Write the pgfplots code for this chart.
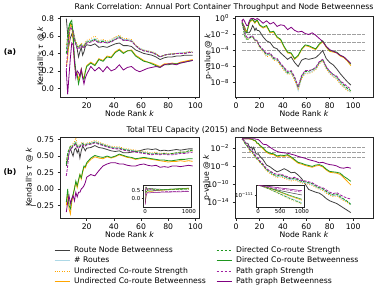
\documentclass[border=0pt]{standalone}
\usepackage{pgfplots}
\pgfplotsset{compat=1.18}
\usepackage{pgfplotstable}
\usepackage{fontspec}
\setmainfont{DejaVu Sans}
\definecolor{cgray}{HTML}{404040}
\definecolor{cblue}{HTML}{ADD8E6}
\definecolor{corange}{HTML}{FFA500}
\definecolor{cgreen}{HTML}{1E961E}
\definecolor{cpurple}{HTML}{800080}
\definecolor{cpurpled}{HTML}{A020A0}
\definecolor{chline}{HTML}{A0A0A0}

\pgfplotstableread{
k g b od os gd gs pd ps
5 0.80 0.45 0.50 0.25 0.40 0.40 0.20 0.20
6 0.62 0.55 0.60 0.35 0.62 0.42 0.45 -0.07
7 0.50 0.65 0.68 0.55 0.72 0.70 0.62 0.15
8 0.58 0.72 0.74 0.74 0.76 0.76 0.70 0.35
9 0.62 0.70 0.72 0.72 0.73 0.78 0.68 0.52
10 0.58 0.66 0.66 0.55 0.66 0.62 0.65 0.50
11 0.55 0.58 0.60 0.28 0.58 0.35 0.56 0.30
12 0.52 0.52 0.54 0.18 0.52 0.20 0.50 0.12
13 0.45 0.48 0.50 0.17 0.48 0.15 0.46 0.20
14 0.36 0.47 0.48 0.10 0.47 0.05 0.45 0.18
15 0.42 0.49 0.50 0.16 0.49 0.12 0.47 0.14
16 0.47 0.51 0.52 0.22 0.50 0.21 0.49 0.22
17 0.38 0.49 0.50 0.14 0.48 0.13 0.47 0.12
18 0.42 0.48 0.49 0.12 0.47 0.10 0.46 0.05
19 0.48 0.52 0.53 0.20 0.51 0.19 0.50 0.12
20 0.50 0.54 0.55 0.26 0.53 0.25 0.52 0.16
23 0.49 0.55 0.57 0.30 0.54 0.29 0.53 0.25
26 0.51 0.57 0.60 0.27 0.56 0.26 0.55 0.20
29 0.47 0.54 0.55 0.34 0.53 0.33 0.52 0.24
32 0.48 0.55 0.56 0.32 0.54 0.31 0.53 0.19
35 0.47 0.53 0.54 0.37 0.52 0.36 0.52 0.25
38 0.49 0.55 0.56 0.36 0.54 0.35 0.53 0.20
41 0.51 0.58 0.59 0.42 0.56 0.41 0.56 0.22
44 0.52 0.60 0.61 0.45 0.59 0.44 0.58 0.27
47 0.49 0.56 0.57 0.41 0.55 0.40 0.55 0.21
50 0.49 0.56 0.57 0.43 0.55 0.43 0.55 0.24
53 0.48 0.55 0.56 0.44 0.54 0.43 0.54 0.25
56 0.44 0.49 0.50 0.38 0.49 0.37 0.49 0.21
59 0.42 0.46 0.46 0.35 0.45 0.34 0.45 0.19
62 0.40 0.44 0.44 0.32 0.43 0.31 0.43 0.21
65 0.39 0.43 0.43 0.30 0.42 0.30 0.42 0.23
68 0.38 0.42 0.42 0.29 0.41 0.28 0.41 0.24
71 0.36 0.40 0.40 0.27 0.39 0.26 0.39 0.25
74 0.33 0.36 0.36 0.25 0.36 0.24 0.36 0.24
77 0.35 0.38 0.38 0.28 0.38 0.27 0.38 0.27
80 0.36 0.39 0.39 0.28 0.39 0.27 0.39 0.28
83 0.36 0.40 0.40 0.29 0.39 0.28 0.39 0.28
86 0.37 0.40 0.40 0.28 0.40 0.28 0.40 0.27
89 0.37 0.41 0.40 0.30 0.40 0.29 0.40 0.29
92 0.38 0.41 0.41 0.31 0.40 0.30 0.40 0.30
95 0.38 0.42 0.42 0.32 0.41 0.31 0.41 0.31
98 0.38 0.42 0.42 0.33 0.41 0.32 0.41 0.32
}\TLtau

\pgfplotstableread{
k g b od os gd gs pd ps
5 4e-1 3.2e-1 4e-1 2.5e-1 2.5e-1 3.2e-1 6.3e-1 5e-1
6 1.6e-1 1e-1 7.9e-2 2e-1 6.3e-2 1.6e-1 1.3e-1 7.9e-1
7 1e-1 2.5e-2 2e-2 6.3e-2 1e-2 4e-2 3.2e-2 5e-1
8 4e-2 6.3e-3 5e-3 3.2e-2 3.2e-3 2e-2 1e-2 2.5e-1
9 2.5e-2 4e-3 3.2e-3 2.5e-2 2.5e-3 1.6e-2 5e-3 1.3e-1
10 1.6e-2 3.2e-3 2.5e-3 5e-2 2.5e-3 6.3e-2 4e-3 1.3e-1
11 1.6e-2 4e-3 3.2e-3 2e-1 3.2e-3 2.5e-1 4e-3 4e-1
12 2.5e-2 5e-3 4e-3 4e-1 4e-3 5e-1 5e-3 7.9e-1
13 5e-2 6.3e-3 5e-3 5e-1 5e-3 6.3e-1 6.3e-3 1
14 1.3e-1 6.3e-3 5e-3 6.3e-1 5e-3 7.9e-1 6.3e-3 1
15 7.9e-2 4e-3 3.2e-3 4e-1 3.2e-3 5e-1 4e-3 1
16 3.2e-2 2e-3 1.6e-3 2.5e-1 1.6e-3 3.2e-1 2e-3 6.3e-1
17 6.3e-2 2e-3 1.6e-3 4e-1 1.6e-3 5e-1 2e-3 7.9e-1
18 3.2e-2 1.6e-3 1.3e-3 5e-1 1.6e-3 6.3e-1 1.6e-3 1
19 3.2e-2 6.3e-4 5e-4 2.5e-1 6.3e-4 3.2e-1 6.3e-4 7.9e-1
20 2.5e-2 3.2e-4 2.5e-4 1.3e-1 3.2e-4 1.6e-1 4e-4 6.3e-1
23 5e-3 1e-4 6.3e-5 6.3e-2 1e-4 7.9e-2 1.3e-4 2.5e-1
26 1.6e-3 2.5e-5 1.6e-5 1e-1 3.2e-5 1.3e-1 4e-5 5e-1
29 1e-3 3.2e-5 2.5e-5 1.6e-2 4e-5 2e-2 5e-5 2e-1
32 2.5e-4 7.9e-6 6.3e-6 2e-2 1e-5 2.5e-2 1.3e-5 3.2e-1
35 1.6e-4 6.3e-6 5e-6 4e-3 7.9e-6 5e-3 1e-5 1e-1
38 5e-5 1.6e-6 1.3e-6 2e-3 2e-6 2.5e-3 2.5e-6 1.6e-1
41 2e-5 4e-7 3.2e-7 2.5e-4 6.3e-7 3.2e-4 7.9e-7 1.3e-1
44 7.9e-6 1.3e-7 1e-7 5e-5 1.6e-7 6.3e-5 2.5e-7 4e-2
47 1.6e-5 1.6e-7 1.3e-7 4e-5 2.5e-7 5e-5 3.2e-7 7.9e-2
50 3.2e-6 2.5e-8 2e-8 7.9e-6 4e-8 1e-5 5e-8 3.2e-2
53 1e-6 1e-9 1.6e-9 2e-5 2.5e-9 2.5e-5 3.2e-9 2e-2
56 6.3e-6 4e-8 3.2e-8 1.3e-4 6.3e-8 1.6e-4 7.9e-8 2.5e-2
59 1e-5 1.6e-7 1.3e-7 4e-4 2.5e-7 5e-4 3.2e-7 1.3e-2
62 7.9e-6 1.6e-7 1.3e-7 3.2e-4 2.5e-7 4e-4 3.2e-7 1e-2
65 1e-5 2.5e-7 2e-7 2e-4 4e-7 2.5e-4 4e-7 1.6e-2
68 1.3e-5 5e-7 4e-7 1.3e-4 6.3e-7 1.6e-4 7.9e-7 7.9e-3
71 3.2e-5 2.5e-6 2e-6 5e-4 3.2e-6 6.3e-4 4e-6 3.2e-3
74 1e-4 6.3e-6 5e-6 1.3e-3 7.9e-6 1.6e-3 7.9e-6 1.3e-3
77 1e-5 6.3e-7 5e-7 2.5e-4 7.9e-7 3.2e-4 1e-6 3.2e-4
80 3.2e-6 1.6e-7 1.3e-7 7.9e-5 2.5e-7 1e-4 2.5e-7 1.3e-4
83 1.6e-6 6.3e-8 5e-8 6.3e-5 1e-7 7.9e-5 1e-7 7.9e-5
86 5e-7 3.2e-8 2.5e-8 5e-5 5e-8 6.3e-5 6.3e-8 5e-5
89 1.3e-7 7.9e-9 6.3e-9 2e-5 1.3e-8 2.5e-5 1.6e-8 2.5e-5
92 4e-8 3.2e-9 2.5e-9 1.3e-5 5e-9 1.6e-5 7.9e-9 1.6e-5
95 1.3e-8 1.3e-9 1e-9 5e-6 2e-9 6.3e-6 3.2e-9 6.3e-6
98 5e-9 6.3e-10 7.9e-10 1.3e-6 1e-9 2e-6 1.6e-9 2.5e-6
}\TRp

\pgfplotstableread{
k g b od os gd gs pd ps
5 0.35 0.40 0.42 -0.25 0.38 -0.20 0.20 -0.35
6 0.45 0.50 0.52 -0.05 0.55 0.00 0.35 -0.20
7 0.55 0.58 0.60 -0.30 0.60 -0.25 0.55 -0.10
8 0.62 0.63 0.66 -0.38 0.65 -0.30 0.60 -0.22
9 0.55 0.62 0.64 -0.20 0.63 -0.15 0.62 -0.15
10 0.50 0.68 0.70 -0.10 0.66 -0.08 0.65 -0.10
11 0.60 0.70 0.72 0.02 0.68 0.00 0.66 -0.18
12 0.62 0.72 0.78 0.10 0.70 0.12 0.68 -0.05
13 0.55 0.66 0.68 0.02 0.65 0.05 0.63 -0.12
14 0.60 0.65 0.66 0.12 0.64 0.14 0.62 -0.05
15 0.47 0.66 0.67 0.22 0.65 0.22 0.64 -0.05
16 0.58 0.68 0.70 0.15 0.67 0.17 0.66 0.00
17 0.65 0.70 0.71 0.25 0.69 0.27 0.67 0.02
18 0.62 0.68 0.69 0.33 0.67 0.35 0.65 0.05
19 0.58 0.67 0.68 0.32 0.66 0.34 0.65 0.10
20 0.62 0.69 0.70 0.38 0.68 0.40 0.67 0.18
23 0.63 0.70 0.71 0.45 0.69 0.47 0.68 0.22
26 0.66 0.72 0.74 0.49 0.71 0.51 0.70 0.20
29 0.63 0.70 0.71 0.47 0.69 0.49 0.68 0.28
32 0.62 0.68 0.69 0.46 0.67 0.48 0.66 0.35
35 0.60 0.66 0.67 0.49 0.65 0.50 0.64 0.38
38 0.58 0.64 0.65 0.47 0.63 0.48 0.62 0.40
41 0.57 0.63 0.64 0.49 0.62 0.50 0.61 0.40
44 0.58 0.63 0.64 0.52 0.62 0.53 0.61 0.38
47 0.55 0.61 0.62 0.50 0.60 0.51 0.59 0.38
50 0.55 0.60 0.61 0.48 0.59 0.49 0.58 0.36
53 0.56 0.59 0.60 0.47 0.58 0.48 0.57 0.35
56 0.57 0.58 0.59 0.45 0.57 0.46 0.56 0.35
59 0.58 0.57 0.58 0.46 0.56 0.47 0.55 0.37
62 0.60 0.56 0.57 0.47 0.55 0.48 0.54 0.38
65 0.61 0.55 0.56 0.46 0.54 0.47 0.53 0.36
68 0.60 0.54 0.55 0.45 0.53 0.46 0.52 0.35
71 0.61 0.55 0.56 0.44 0.54 0.45 0.53 0.36
74 0.58 0.53 0.54 0.43 0.53 0.44 0.52 0.33
77 0.59 0.54 0.55 0.42 0.54 0.44 0.53 0.34
80 0.58 0.53 0.54 0.41 0.53 0.43 0.52 0.33
83 0.59 0.54 0.54 0.42 0.54 0.43 0.52 0.35
86 0.60 0.54 0.55 0.42 0.55 0.44 0.53 0.35
89 0.59 0.55 0.56 0.43 0.56 0.45 0.54 0.34
92 0.60 0.55 0.56 0.42 0.56 0.45 0.54 0.35
95 0.61 0.57 0.57 0.43 0.58 0.46 0.55 0.36
98 0.61 0.58 0.58 0.42 0.59 0.46 0.56 0.35
}\BLtau

\pgfplotstableread{
k g b od os gd gs pd ps
5 0.35 0.40 0.42 -0.25 0.38 -0.20 0.20 -0.35
10 0.50 0.68 0.70 -0.10 0.66 -0.08 0.65 -0.10
20 0.62 0.69 0.70 0.38 0.68 0.40 0.67 0.18
50 0.55 0.60 0.61 0.48 0.59 0.49 0.58 0.36
100 0.61 0.58 0.58 0.42 0.59 0.46 0.56 0.35
200 0.59 0.55 0.56 0.46 0.56 0.48 0.50 0.37
300 0.57 0.53 0.54 0.49 0.54 0.51 0.47 0.38
400 0.56 0.52 0.53 0.51 0.53 0.53 0.45 0.39
500 0.56 0.52 0.53 0.53 0.53 0.55 0.44 0.39
600 0.57 0.53 0.54 0.55 0.54 0.57 0.44 0.40
700 0.58 0.54 0.55 0.57 0.55 0.59 0.44 0.41
800 0.58 0.55 0.56 0.59 0.56 0.60 0.45 0.41
900 0.59 0.56 0.57 0.60 0.57 0.62 0.45 0.42
1000 0.60 0.57 0.58 0.62 0.58 0.63 0.46 0.42
}\BLins

\pgfplotstableread{
k g b od os gd gs pd ps
5 1 1 1 1 1 1 1 1
6 6.3e-1 5e-1 5e-1 1 5e-1 1 6.3e-1 1
7 3.2e-1 2e-1 1.6e-1 1 1.6e-1 1 3.2e-1 1
8 1.3e-1 7.9e-2 6.3e-2 1 6.3e-2 1 1.3e-1 1
9 1e-1 4e-2 3.2e-2 1 3.2e-2 1 6.3e-2 1
10 1e-1 1.6e-2 1.3e-2 1 1.6e-2 1 2.5e-2 1
11 2.5e-2 6.3e-3 4e-3 1 6.3e-3 1 1e-2 1
12 1e-2 2.5e-3 1e-3 7.9e-1 2.5e-3 1 4e-3 1
13 1.6e-2 2.5e-3 1.6e-3 7.9e-1 2.5e-3 7.9e-1 4e-3 1
14 4e-3 1e-3 6.3e-4 6.3e-1 1e-3 7.9e-1 1.6e-3 1
15 1.3e-2 4e-4 2.5e-4 4e-1 4e-4 5e-1 7.9e-4 1
16 2.5e-3 1.6e-4 1e-4 4e-1 1.6e-4 5e-1 3.2e-4 1
17 5e-4 5e-5 4e-5 2e-1 6.3e-5 2.5e-1 1.3e-4 7.9e-1
18 4e-4 3.2e-5 2.5e-5 7.9e-2 4e-5 1e-1 7.9e-5 7.9e-1
19 5e-4 2e-5 1.6e-5 7.9e-2 2.5e-5 1e-1 5e-5 6.3e-1
20 1.6e-4 7.9e-6 6.3e-6 3.2e-2 1e-5 4e-2 1.6e-5 4e-1
23 2.5e-5 1.3e-6 1e-6 6.3e-3 1.6e-6 1e-2 2.5e-6 6.3e-2
26 1.6e-6 1.3e-7 7.9e-8 1e-3 1.6e-7 1.6e-3 2.5e-7 5e-2
29 6.3e-7 3.2e-8 2e-8 4e-4 5e-8 6.3e-4 7.9e-8 1.3e-2
32 1.6e-7 1e-8 6.3e-9 3.2e-4 1.3e-8 5e-4 2.5e-8 4e-3
35 5e-8 4e-9 2.5e-9 1e-4 6.3e-9 1.6e-4 1.3e-8 1.6e-3
38 1e-7 6.3e-9 4e-9 1.6e-4 1e-8 2.5e-4 1.6e-8 1e-3
41 2.5e-7 3.2e-9 2e-9 1.3e-4 5e-9 2e-4 7.9e-9 7.9e-4
44 1e-7 1.6e-9 1e-9 2e-4 2.5e-9 3.2e-4 4e-9 6.3e-4
47 3.2e-8 7.9e-10 5e-10 6.3e-5 1.3e-9 1e-4 2e-9 4e-4
50 4e-8 1.3e-9 7.9e-10 1.6e-5 2e-9 2.5e-5 3.2e-9 2.5e-4
53 1e-8 5e-10 3.2e-10 4e-6 7.9e-10 6.3e-6 1.3e-9 1.3e-4
56 1.6e-9 2.5e-10 1.6e-10 2.5e-6 4e-10 4e-6 6.3e-10 7.9e-5
59 1e-10 2e-10 1.3e-10 1.3e-6 3.2e-10 2e-6 5e-10 5e-5
62 6.3e-12 1.3e-10 7.9e-11 7.9e-7 2e-10 1.3e-6 3.2e-10 2.5e-5
65 3.2e-12 7.9e-11 5e-11 5e-7 1.3e-10 7.9e-7 2e-10 1.6e-5
68 1.6e-12 2.5e-11 1.6e-11 1e-6 4e-11 1.6e-6 6.3e-11 1e-5
71 1e-12 1e-11 6.3e-12 1.3e-6 1.6e-11 2e-6 2.5e-11 5e-6
74 3.2e-13 6.3e-12 4e-12 6.3e-7 1e-11 1e-6 1.6e-11 6.3e-6
77 6.3e-14 1.6e-12 1e-12 1.3e-7 2.5e-12 2e-7 5e-12 3.2e-6
80 2e-14 5e-13 3.2e-13 4e-8 7.9e-13 6.3e-8 1.6e-12 2e-6
83 1e-14 2.5e-13 1.6e-13 3.2e-8 4e-13 5e-8 7.9e-13 1.6e-6
86 5e-15 4e-13 2.5e-13 2.5e-8 6.3e-13 4e-8 1.3e-12 1e-6
89 1.6e-15 1e-13 6.3e-14 1.3e-8 1.6e-13 2.5e-8 4e-13 4e-7
92 5e-16 3.2e-14 2e-14 2.5e-9 5e-14 5e-9 1.6e-13 3.2e-7
95 1.6e-16 1.3e-14 7.9e-15 4e-10 1.6e-14 1.6e-9 7.9e-14 5e-7
98 5e-17 4e-15 2.5e-15 6.3e-11 3.2e-15 4e-10 5e-14 3.2e-7
}\BRp

\pgfplotstableread{
k g b od os gd gs pd ps
5 1 1 1 1 1 1 1 1
100 1e-16 3.2e-15 1e-15 1e-10 3.2e-15 3.2e-10 1e-13 3.2e-7
300 1e-37 1e-50 1e-55 1e-40 1e-52 1e-38 1e-28 1e-18
500 1e-58 1e-90 1e-100 1e-75 1e-94 1e-70 1e-42 1e-30
700 1e-78 1e-130 1e-145 1e-112 1e-137 1e-105 1e-55 1e-42
1000 1e-105 1e-185 1e-205 1e-160 1e-195 1e-150 1e-75 1e-60
}\BRins

\newcommand{\fs}{\fontsize{7.7}{9.2}\selectfont}
\newcommand{\fst}{\fontsize{7.8}{9.4}\selectfont}
\pgfplotsset{
  base/.style={scale only axis, axis line style={line width=0.6pt, black!85},
    tick align=outside, major tick length=2.5pt, tick style={line width=0.5pt, black!85},
    xtick pos=left, ytick pos=left,
    ticklabel style={font=\fs},
    label style={font=\fs},
    /pgf/number format/assume math mode=true},
  inset/.style={scale only axis, width=48pt, height=22pt, axis background/.style={fill=white},
    axis line style={line width=0.5pt, black!85}, tick align=outside, major tick length=1.5pt,
    tick style={line width=0.4pt, black!85}, xtick pos=left, ytick pos=left,
    ticklabel style={font=\fontsize{5.5}{6.5}\selectfont, inner sep=1pt},
    /pgf/number format/assume math mode=true, xmin=-50, xmax=1050},
  sgray/.style={cgray, line width=0.8pt},
  sblue/.style={cblue, line width=0.8pt},
  sodot/.style={corange, line width=0.8pt, dash pattern=on 0.8pt off 1.6pt},
  sosol/.style={corange, line width=0.8pt},
  sgdash/.style={cgreen, line width=0.8pt, dash pattern=on 2.8pt off 1.2pt},
  sgsol/.style={cgreen, line width=0.8pt},
  spdash/.style={cpurpled, line width=0.8pt, dash pattern=on 2.8pt off 1.2pt},
  spsol/.style={cpurple, line width=0.8pt},
  shl/.style={chline, line width=0.8pt, dash pattern=on 3.5pt off 1.5pt},
}
\newcommand{\plotall}[2][0.8pt]{%
  \addplot[sgray, line width=#1] table[x=k,y=g]{#2};
  \addplot[sblue, line width=#1] table[x=k,y=b]{#2};
  \addplot[sodot, line width=#1] table[x=k,y=od]{#2};
  \addplot[sosol, line width=#1] table[x=k,y=os]{#2};
  \addplot[sgdash, line width=#1] table[x=k,y=gd]{#2};
  \addplot[sgsol, line width=#1] table[x=k,y=gs]{#2};
  \addplot[spdash, line width=#1] table[x=k,y=pd]{#2};
  \addplot[spsol, line width=#1] table[x=k,y=ps]{#2};
}
\newcommand{\hlines}{%
  \addplot[shl] coordinates {(5,1e-2) (110,1e-2)};
  \addplot[shl] coordinates {(5,1e-3) (110,1e-3)};
  \addplot[shl] coordinates {(5,1e-4) (110,1e-4)};
}

\begin{document}
\begin{tikzpicture}
\useasboundingbox (0pt,0pt) rectangle (379pt,294pt);

% ---------- top left
\begin{axis}[base, at={(60pt,197pt)}, anchor=south west, width=139pt, height=81pt,
  xmin=0.35, xmax=102.65, ymin=-0.1, ymax=0.83,
  xtick={20,40,60,80,100}, ytick={0,0.2,0.4,0.6,0.8},
  yticklabels={0.0,0.2,0.4,0.6,0.8},
  xlabel={Node Rank \textit{k}}, ylabel={Kendall\textquotesingle s \textit{τ} @ \textit{k}},
  xlabel style={at={(axis description cs:0.5,-0.2)}, anchor=center},
  ylabel style={at={(axis description cs:-0.137,0.5)}, anchor=center}]
\plotall{\TLtau}
\end{axis}

% ---------- top right
\begin{axis}[base, at={(235pt,197pt)}, anchor=south west, width=138pt, height=81pt,
  xmin=-1, xmax=117, ymode=log, ymin=1.6e-10, ymax=2, yminorticks=false,
  xtick={0,20,40,60,80,100},
  ytick={1,1e-2,1e-4,1e-6,1e-8},
  yticklabels={{10\textsuperscript{0}},{10\textsuperscript{−2}},{10\textsuperscript{−4}},{10\textsuperscript{−6}},{10\textsuperscript{−8}}},
  xlabel={Node Rank \textit{k}}, ylabel={p-value @ \textit{k}},
  xlabel style={at={(axis description cs:0.5,-0.2)}, anchor=center},
  ylabel style={at={(axis description cs:-0.193,0.5)}, anchor=center}]
\hlines
\plotall{\TRp}
\end{axis}

% ---------- bottom left
\begin{axis}[base, at={(60pt,76pt)}, anchor=south west, width=139pt, height=81pt,
  xmin=0.35, xmax=102.65, ymin=-0.44, ymax=0.79,
  xtick={20,40,60,80,100}, ytick={-0.25,0,0.25,0.5,0.75},
  yticklabels={−0.25,0.00,0.25,0.50,0.75},
  xlabel={Node Rank \textit{k}}, ylabel={Kendall\textquotesingle s \textit{τ} @ \textit{k}},
  xlabel style={at={(axis description cs:0.5,-0.21)}, anchor=center},
  ylabel style={at={(axis description cs:-0.22,0.5)}, anchor=center},
  legend columns=4, transpose legend, legend cell align=left,
  legend image code/.code={\draw[#1] (0pt,0pt) -- (15pt,0pt);},
  legend style={at={(axis description cs:-0.065,-0.31)}, anchor=north west, draw=none, fill=none,
    font=\fs, nodes={inner sep=1.2pt, text height=5.5pt, text depth=1.6pt},
    row sep=1.1pt,
    /tikz/every odd column/.append style={column sep=3pt},
    /tikz/every even column/.append style={column sep=9pt}},
  legend entries={Route Node Betweenness,\# Routes,Undirected Co-route Strength,Undirected Co-route Betweenness,Directed Co-route Strength,Directed Co-route Betweenness,Path graph Strength,Path graph Betweenness}]
\plotall{\BLtau}
\end{axis}

% ---------- bottom right
\begin{axis}[base, at={(235pt,76pt)}, anchor=south west, width=138pt, height=81pt,
  xmin=-1, xmax=117, ymode=log, ymin=3.2e-18, ymax=2.5, yminorticks=false,
  xtick={0,20,40,60,80,100},
  ytick={1e-2,1e-6,1e-10,1e-14},
  yticklabels={{10\textsuperscript{−2}},{10\textsuperscript{−6}},{10\textsuperscript{−10}},{10\textsuperscript{−14}}},
  xlabel={Node Rank \textit{k}}, ylabel={p-value @ \textit{k}},
  xlabel style={at={(axis description cs:0.5,-0.21)}, anchor=center},
  ylabel style={at={(axis description cs:-0.205,0.5)}, anchor=center}]
\hlines
\plotall{\BRp}
\end{axis}

% ---------- insets
\begin{axis}[inset, at={(143pt,87pt)}, anchor=south west,
  ymin=-0.5, ymax=0.82, xtick={0,1000}, xticklabels={0,1000}, ytick={0,0.5}, yticklabels={0.0,0.5}]
\plotall[0.5pt]{\BLins}
\end{axis}

\begin{axis}[inset, at={(256pt,87pt)}, anchor=south west,
  ymode=log, ymin=1e-232, ymax=3.2, yminorticks=false, xtick={0,500,1000}, xticklabels={0,500,1000},
  ytick={1e-111}, yticklabels={{10\textsuperscript{−111}}}]
\plotall[0.5pt]{\BRins}
\end{axis}

% ---------- titles and panel labels
\node[font=\fst] at (224pt,286.8pt) {Rank Correlation: Annual Port Container Throughput and Node Betweenness};
\node[font=\fst] at (224.5pt,164pt) {Total TEU Capacity (2015) and Node Betweenness};
\node[font=\bfseries\fs] at (10pt,242pt) {(a)};
\node[font=\bfseries\fs] at (10pt,122pt) {(b)};
\end{tikzpicture}
\end{document}
